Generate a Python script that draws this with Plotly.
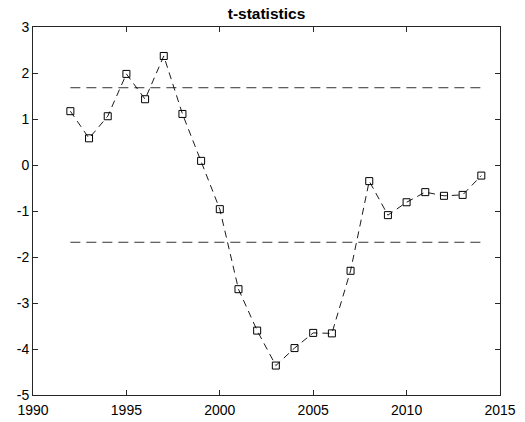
import plotly.graph_objects as go

years = list(range(1992, 2015))
tstats = [1.17, 0.58, 1.06, 1.98, 1.43, 2.37, 1.11, 0.09, -0.96, -2.70, -3.60,
          -4.36, -3.98, -3.65, -3.66, -2.30, -0.35, -1.09, -0.81, -0.59, -0.67,
          -0.65, -0.23]
crit_x = [1992, 2014]
crit_upper = [1.68, 1.68]
crit_lower = [-1.68, -1.68]
x_ticks = [1990, 1995, 2000, 2005, 2010, 2015]
y_ticks = [-5, -4, -3, -2, -1, 0, 1, 2, 3]

FONT = "Liberation Sans, Arial, Helvetica, sans-serif"

fig = go.Figure()
for yy in (crit_upper, crit_lower):
    fig.add_trace(go.Scatter(x=crit_x, y=yy, mode="lines",
                             line=dict(color="#333333", width=1, dash="10px,6px"),
                             showlegend=False, hoverinfo="skip"))
fig.add_trace(go.Scatter(x=years, y=tstats, mode="lines+markers",
                         line=dict(color="black", width=0.9, dash="7px,5px"),
                         marker=dict(symbol="square-open", size=7,
                                     color="black", line=dict(width=1)),
                         showlegend=False))

axis_common = dict(showgrid=False, zeroline=False, showline=True, mirror="ticks",
                   linecolor="#262626", linewidth=1, ticks="inside", ticklen=5,
                   tickcolor="#262626", tickwidth=1, automargin=False,
                   tickfont=dict(family=FONT, size=14, color="black"))
fig.update_xaxes(range=[1990, 2015], tickvals=x_ticks,
                 ticktext=[str(v) for v in x_ticks], ticklabelstandoff=2,
                 **axis_common)
fig.update_yaxes(range=[-5, 3], tickvals=y_ticks,
                 ticktext=[str(v) for v in y_ticks], **axis_common)

fig.update_layout(
    width=525, height=422,
    margin=dict(l=33, r=25, t=27, b=27),
    paper_bgcolor="white", plot_bgcolor="white",
    title=dict(text="<b>t-statistics</b>", x=0.5, xref="paper", xanchor="center",
               y=1 - 14 / 422, yref="container", yanchor="middle",
               font=dict(family=FONT, size=15.5, color="black")),
)
fig.write_html("out.html")
